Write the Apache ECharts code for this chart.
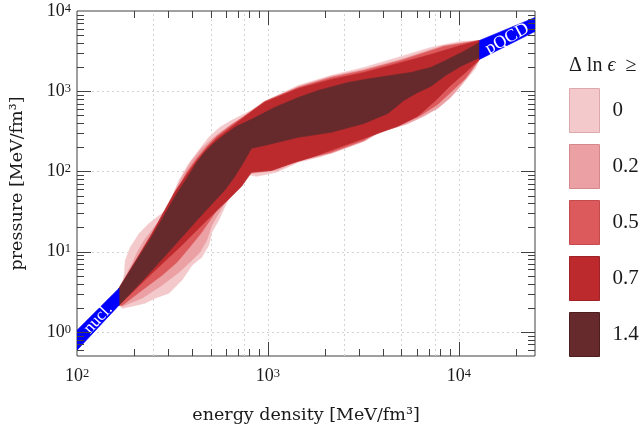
<!DOCTYPE html>
<html><head><meta charset="utf-8">
<script src="https://cdn.jsdelivr.net/npm/echarts@6/dist/echarts.min.js"></script>
<style>html,body{margin:0;padding:0;background:#fff}#c{width:640px;height:430px}</style>
</head><body><div id="c"></div>
<script>
// ---------- data (energy density e [MeV/fm^3], pressure p [MeV/fm^3]) ----------
const levels = ['0', '0.2', '0.5', '0.7', '1.4'];

const band0Upper = [[166,3.5],[173,3.82],[177,5.38],[179,7.82],[190,11.3],[212,16.9],[239,22.6],[279,30.1],[303,35.7],[322,53.4],[342,77.5],[385,126],[434,183],[490,266],[559,354],[645,433],[820,577],[1006,791],[1442,1181],[2142,1573],[3181,1979],[4784,2636],[7106,3511],[10180,4171],[12800,4293]];
const band0Lower = [[12800,2489],[12190,1922],[10810,1363],[9590,966],[8506,768],[7727,628],[6691,500],[5589,409],[4670,354],[3900,316],[3181,244],[2414,194],[1899,154],[1442,130],[1107,97.5],[871,86.9],[773,92],[728,97.5],[702,77.5],[645,53.4],[593,35.7],[552,24.6],[508,17.4],[490,12.0],[450,8.52],[400,6.77],[354,4.40],[303,3.03],[256,2.63],[227,2.28],[195,2.09],[173,1.97],[166,2.15]];

const band02Upper = [[166,3.5],[195,7.17],[207,9.83],[225,13.9],[247,18.5],[279,26.8],[303,34.7],[326,58.2],[354,84.4],[400,137],[450,194],[520,266],[645,386],[820,545],[1006,768],[1442,1148],[2142,1529],[3181,1868],[4958,2489],[8305,3719],[12800,4293]];
const band02Lower = [[12800,2489],[11480,1714],[10180,1181],[9031,837],[7727,611],[6302,472],[5265,386],[3900,316],[3181,237],[2142,168],[1442,134],[1107,103],[820,94.7],[711,97.5],[661,67.1],[608,43.7],[552,30.1],[508,21.3],[478,13.9],[440,9.83],[400,7.82],[342,5.54],[279,3.82],[219,2.63],[173,2.09],[166,2.15]];

const band05Upper = [[166,3.5],[183,4.67],[207,7.38],[233,10.4],[269,15.1],[303,30.1],[334,58.2],[376,97.5],[424,146],[478,205],[539,274],[630,365],[773,514],[959,746],[1442,1115],[2142,1486],[3181,1816],[4958,2418],[8305,3614],[12800,4293]];
const band05Lower = [[12800,2489],[10810,1443],[9031,966],[7727,685],[6302,500],[4958,386],[3900,325],[3181,244],[2142,173],[1442,137],[1043,103],[820,97.5],[728,89.4],[630,53.4],[539,32.8],[450,17.4],[385,11.0],[334,7.38],[279,5.08],[219,3.31],[173,2.15],[166,2.15]];

const band07Upper = [[166,3.5],[247,16.9],[322,53.4],[376,92],[424,137],[478,194],[539,258],[630,344],[773,500],[959,728],[1442,1084],[2142,1403],[3181,1714],[4784,2220],[7106,2872],[10180,3719],[12800,4293]];
const band07Lower = [[12800,2489],[10810,1714],[9031,1181],[7544,768],[6080,486],[4784,365],[3181,258],[2142,183],[1747,154],[1326,126],[1043,103],[820,97.5],[728,65.2],[630,46.2],[478,24.6],[354,12.0],[247,5.38],[166,2.15]];

const band14Upper = [[166,3.5],[247,15.6],[334,53.4],[376,82.1],[424,130],[467,173],[520,224],[587,282],[685,365],[820,446],[1081,628],[1442,837],[1832,1023],[2626,1287],[3460,1443],[4398,1573],[5589,1714],[7106,1979],[8506,2418],[10810,3222],[12800,4052]];
const band14Lower = [[12800,2636],[10180,2036],[8506,1573],[7106,1148],[6080,966],[5139,768],[4243,529],[3181,397],[2142,307],[1442,266],[959,211],[820,194],[745,130],[661,82.1],[593,58.2],[434,26.1],[314,11.0],[219,4.28],[166,2.15]];

const nuclUpper = [[100,1.05],[166,3.5]];
const nuclLower = [[100,0.59],[166,2.15]];
const pqcdUpper = [[12800,4293],[25000,8300]];
const pqcdLower = [[12800,2489],[25000,5560]];

const xTicksMajor = [1000, 10000];
const xTicksMinor = [200,300,400,500,600,700,800,900,2000,3000,4000,5000,6000,7000,8000,9000,20000];
const yTicksMajor = [1, 10, 100, 1000];
const yTicksMinor = [0.6,0.7,0.8,0.9,2,3,4,5,6,7,8,9,20,30,40,50,60,70,80,90,200,300,400,500,600,700,800,900,2000,3000,4000,5000,6000,7000,8000,9000];
const xGridValues = [250, 500, 750, 1000, 2500, 5000, 7500, 10000];
const yGridValues = [1, 10, 100, 1000];

// ---------- styling ----------
const X_MIN = 100, X_MAX = 25000, Y_MIN = 0.5, Y_MAX = 10000;
const FONT = 'Liberation Serif';
const NAME_FONT = 'DejaVu Serif';
const TXT = '#1a1a1a';
const AXIS = '#404040';
const colors = ['#f4c9cb', '#eba0a4', '#dd5a5c', '#bd2a2e', '#662a2c'];
const borders = ['#dca9ac', '#d4888c', '#c44a4d', '#9f2326', '#4c1e20'];
const BLUE = '#0000ff';

const bands = [
  [band0Upper, band0Lower], [band02Upper, band02Lower], [band05Upper, band05Lower],
  [band07Upper, band07Lower], [band14Upper, band14Lower]
];

function polygonSeries(name, pts, color, z, labelInfo) {
  return {
    type: 'custom', name: name, z: z, silent: true, clip: true,
    coordinateSystem: 'cartesian2d',
    itemStyle: { color: color },
    data: [pts[0]],
    renderItem: function (params, api) {
      const points = pts.map(function (p) { return api.coord(p); });
      const children = [{
        type: 'polygon', shape: { points: points },
        style: { fill: color, stroke: color, lineWidth: 0.6 }
      }];
      if (labelInfo) {
        const c = api.coord(labelInfo.at);
        children.push({
          type: 'text', x: c[0], y: c[1], rotation: labelInfo.angle * Math.PI / 180,
          style: { text: labelInfo.text, fill: '#fff', font: labelInfo.size + 'px "' + FONT + '"',
                   align: 'center', verticalAlign: 'middle', textAlign: 'center', textVerticalAlign: 'middle' }
        });
      }
      return { type: 'group', children: children };
    }
  };
}

function tickSeries(axis, values, len) {
  return {
    type: 'custom', silent: true, z: 20, coordinateSystem: 'cartesian2d',
    data: values.map(function (v) { return axis === 'x' ? [v, Y_MIN] : [X_MIN, v]; }),
    renderItem: function (params, api) {
      const st = { stroke: AXIS, lineWidth: 1 };
      if (axis === 'x') {
        const v = api.value(0);
        const b = api.coord([v, Y_MIN]), t = api.coord([v, Y_MAX]);
        const x = Math.round(b[0]) + 0.5;
        return { type: 'group', children: [
          { type: 'line', shape: { x1: x, y1: b[1], x2: x, y2: b[1] - len }, style: st },
          { type: 'line', shape: { x1: x, y1: t[1], x2: x, y2: t[1] + len }, style: st }
        ]};
      } else {
        const v = api.value(1);
        const l = api.coord([X_MIN, v]), r = api.coord([X_MAX, v]);
        const y = Math.round(l[1]) + 0.5;
        return { type: 'group', children: [
          { type: 'line', shape: { x1: l[0], y1: y, x2: l[0] + len, y2: y }, style: st },
          { type: 'line', shape: { x1: r[0], y1: y, x2: r[0] - len, y2: y }, style: st }
        ]};
      }
    }
  };
}

function gridSeries(axis, values) {
  return {
    type: 'custom', silent: true, z: 1, coordinateSystem: 'cartesian2d',
    data: values.map(function (v) { return axis === 'x' ? [v, Y_MIN] : [X_MIN, v]; }),
    renderItem: function (params, api) {
      const st = { stroke: '#d2d2d2', lineWidth: 1, lineDash: [2, 3] };
      if (axis === 'x') {
        const v = api.value(0);
        const b = api.coord([v, Y_MIN]), t = api.coord([v, Y_MAX]);
        const x = Math.round(b[0]) + 0.5;
        return { type: 'line', shape: { x1: x, y1: b[1], x2: x, y2: t[1] }, style: st };
      } else {
        const v = api.value(1);
        const l = api.coord([X_MIN, v]), r = api.coord([X_MAX, v]);
        const y = Math.round(l[1]) + 0.5;
        return { type: 'line', shape: { x1: l[0], y1: y, x2: r[0], y2: y }, style: st };
      }
    }
  };
}

function powLabel(v) {
  const lg = Math.log10(v);
  const k = Math.round(lg);
  if (Math.abs(lg - k) > 1e-6) return '';
  return '{b|10}{s|' + k + '}';
}
const labelRich = {
  b: { fontFamily: FONT, fontSize: 18, color: TXT, verticalAlign: 'bottom', lineHeight: 18 },
  s: { fontFamily: FONT, fontSize: 12.5, color: TXT, verticalAlign: 'top', lineHeight: 12, padding: [0, 0, 9, 0] }
};

const series = [gridSeries('x', xGridValues), gridSeries('y', yGridValues)];
bands.forEach(function (b, i) {
  series.push(polygonSeries(levels[i], b[0].concat(b[1]), colors[i], 3 + i));
});
series.push(polygonSeries('nucl', nuclUpper.concat(nuclLower.slice().reverse()), BLUE, 10,
  { text: 'nucl.', at: [129, 1.45], angle: 47, size: 17 }));
series.push(polygonSeries('pQCD', pqcdUpper.concat(pqcdLower.slice().reverse()), BLUE, 10,
  { text: 'pQCD', at: [17900, 4500], angle: 29, size: 18 }));
series.push(tickSeries('x', xTicksMajor, 14));
series.push(tickSeries('x', xTicksMinor, 7));
series.push(tickSeries('y', yTicksMajor, 14));
series.push(tickSeries('y', yTicksMinor, 7));

const chart = echarts.init(document.getElementById('c'), null, { renderer: 'canvas' });
chart.setOption({
  animation: false,
  backgroundColor: '#fff',
  grid: { left: 74, top: 11, width: 461, height: 345, show: true, borderColor: AXIS, borderWidth: 1, backgroundColor: 'transparent' },
  title: {
    text: '{n|Δ}{n| ln }{i|ϵ}{n|  ≥}', left: 569, top: 56, padding: 0,
    textStyle: { fontWeight: 'normal', rich: {
      n: { fontFamily: FONT, fontSize: 20, color: TXT, fontWeight: 'normal' },
      i: { fontFamily: FONT, fontSize: 20, color: TXT, fontStyle: 'italic', fontWeight: 'normal' }
    } }
  },
  legend: {
    orient: 'vertical', left: 569, top: 88, padding: 0, itemWidth: 30, itemHeight: 44, itemGap: 11,
    icon: 'rect', selectedMode: false,
    textStyle: { fontFamily: FONT, fontSize: 21, color: TXT, padding: [0, 0, 0, 8] },
    data: levels.map(function (n, i) {
      return { name: n, itemStyle: { color: colors[i], borderColor: borders[i], borderWidth: 1 } };
    })
  },
  xAxis: {
    type: 'log', logBase: 10, min: X_MIN, max: X_MAX,
    axisLine: { show: false }, axisTick: { show: false }, splitLine: { show: false },
    axisLabel: { formatter: powLabel, rich: labelRich, margin: 11 },
    name: 'energy density [MeV/fm³]', nameLocation: 'middle', nameGap: 50,
    nameTextStyle: { fontFamily: NAME_FONT, fontSize: 17.5, color: TXT }
  },
  yAxis: {
    type: 'log', logBase: 10, min: Y_MIN, max: Y_MAX,
    axisLine: { show: false }, axisTick: { show: false }, splitLine: { show: false },
    axisLabel: { formatter: powLabel, rich: labelRich, margin: 6 },
    name: 'pressure [MeV/fm³]', nameLocation: 'middle', nameGap: 51,
    nameTextStyle: { fontFamily: NAME_FONT, fontSize: 17.5, color: TXT }
  },
  series: series
});
</script>
</body></html>
